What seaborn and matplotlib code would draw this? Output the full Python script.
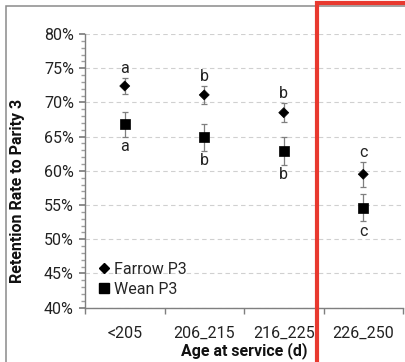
import matplotlib
matplotlib.use("Agg")
import matplotlib.pyplot as plt
import matplotlib.ticker as mticker
from matplotlib.patches import Rectangle
from matplotlib.lines import Line2D
import seaborn as sns
import pandas as pd

# Retention to parity 3 by gilt age at first service
age_groups = ["<205", "206_215", "216_225", "226_250"]
farrow_p3 = [72.4, 71.1, 68.5, 59.5]
farrow_se = [1.2, 1.3, 1.4, 1.8]
wean_p3 = [66.8, 64.9, 62.9, 54.6]
wean_se = [1.8, 2.0, 2.1, 2.0]
farrow_letters = ["a", "b", "b", "c"]
wean_letters = ["a", "b", "b", "c"]

sns.set_theme(style="white")
plt.rcParams["font.family"] = ["Roboto", "DejaVu Sans"]

FS = 11.5

df = pd.DataFrame({
    "age": age_groups * 2,
    "rate": farrow_p3 + wean_p3,
    "se": farrow_se + wean_se,
    "series": ["Farrow P3"] * 4 + ["Wean P3"] * 4,
})

fig = plt.figure(figsize=(4.05, 3.62), dpi=100)
ax = fig.add_axes([85 / 405, 1 - 307.7 / 362, 318 / 405, (307.7 - 34) / 362])

pos = list(range(len(age_groups)))
err_kw = dict(fmt="none", ecolor="#7f7f7f", elinewidth=0.9, capsize=2.5, capthick=0.9, zorder=2)
ax.errorbar(pos, farrow_p3, yerr=farrow_se, **err_kw)
ax.errorbar(pos, wean_p3, yerr=wean_se, **err_kw)

sns.scatterplot(data=df, x="age", y="rate", style="series", size="series",
                markers={"Farrow P3": "D", "Wean P3": "s"},
                sizes={"Farrow P3": 26, "Wean P3": 50},
                color="black", edgecolor="black", linewidth=0.5,
                ax=ax, legend=False, zorder=3)

txt_kw = dict(ha="center", fontsize=FS, color="#222222")
for i in pos:
    ax.text(i, farrow_p3[i] + farrow_se[i] + 0.3, farrow_letters[i], va="bottom", **txt_kw)
    ax.text(i, wean_p3[i] - wean_se[i] - 0.3, wean_letters[i], va="top", **txt_kw)

ax.set_xlim(-0.5, 3.5)
ax.set_ylim(40, 80)
ax.yaxis.set_major_locator(mticker.MultipleLocator(5))
ax.yaxis.set_minor_locator(mticker.MultipleLocator(1))
ax.yaxis.set_major_formatter(mticker.FuncFormatter(lambda v, _: f"{v:.0f}%"))
ax.set_xticks(pos)
ax.set_xticklabels(age_groups)
ax.xaxis.set_minor_locator(mticker.FixedLocator([-0.5, 0.5, 1.5, 2.5, 3.5]))

ax.grid(axis="y", which="major", color="#d0d0d0", linestyle=(0, (4, 3)), linewidth=0.8)
ax.set_axisbelow(True)

for side in ("top", "right"):
    ax.spines[side].set_visible(False)
for side in ("left", "bottom"):
    ax.spines[side].set_color("#7f7f7f")
    ax.spines[side].set_linewidth(1.0)

ax.tick_params(axis="y", which="major", left=True, direction="out", length=4,
               color="#7f7f7f", labelsize=FS, labelcolor="#222222", pad=4)
ax.tick_params(axis="y", which="minor", left=True, direction="out", length=3, color="#9f9f9f")
ax.tick_params(axis="x", which="major", bottom=False, labelsize=FS, labelcolor="#222222", pad=7)
ax.tick_params(axis="x", which="minor", bottom=True, direction="out", length=4, color="#7f7f7f")

ax.set_xlabel("Age at service (d)", fontsize=FS, fontweight="bold", color="#111111", labelpad=1)
ax.set_ylabel("Retention Rate to Parity 3", fontsize=FS, fontweight="bold", color="#111111")
ax.yaxis.set_label_coords(-0.19, 0.426)

handles = [
    Line2D([], [], marker="D", color="black", linestyle="none", markersize=5),
    Line2D([], [], marker="s", color="black", linestyle="none", markersize=7),
]
ax.legend(handles, ["Farrow P3", "Wean P3"], loc="lower left", frameon=False,
          fontsize=FS, handlelength=0.6, handletextpad=0.3, labelspacing=0.3,
          borderaxespad=0.3, bbox_to_anchor=(0.01, 0.0))

# outer frame and highlight box
fig.patches.append(Rectangle((6 / 405, -0.05), 1.1, 1 - 6 / 362 + 0.05,
                             transform=fig.transFigure, fill=False,
                             edgecolor="#8a8a8a", linewidth=1.1, zorder=5))
fig.patches.append(Rectangle((317 / 405, -0.05), 0.5, 1 - 3 / 362 + 0.05,
                             transform=fig.transFigure, fill=False,
                             edgecolor="#e8392f", linewidth=3.0, zorder=6))

fig.savefig("out.png", dpi=100)
